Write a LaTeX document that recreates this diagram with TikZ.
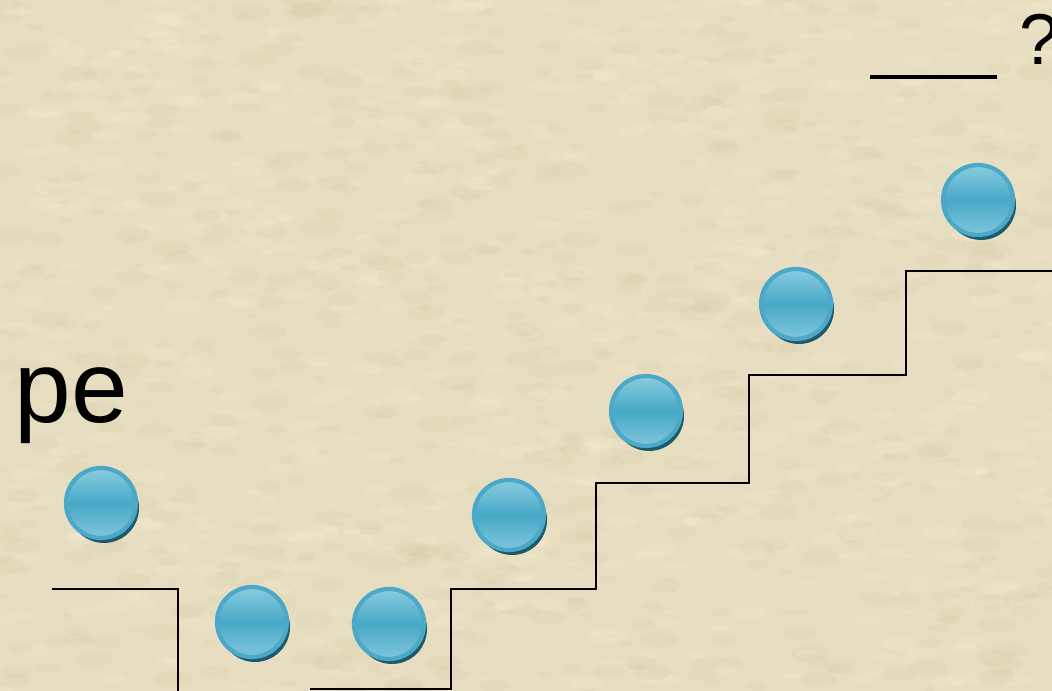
\documentclass[tikz,border=0pt]{standalone}
\usepackage{fontspec}
\setmainfont{Liberation Sans}
\usepackage{xcolor}
\usetikzlibrary{shadows,arrows.meta}
\definecolor{paper}{HTML}{E7DEC1}
\definecolor{paperlight}{HTML}{F3ECD2}
\definecolor{paperdark}{HTML}{D3C9A8}
\definecolor{balltop}{HTML}{8ACCE0}
\definecolor{ballmid}{HTML}{47A9C7}
\definecolor{ballbot}{HTML}{80C6DC}
\definecolor{ballrim}{HTML}{4BA8C6}
\definecolor{ballshade}{HTML}{1E5A6C}
\tikzset{
ball/.style={circle,minimum size=0.70cm,inner sep=0pt,draw=ballrim,line width=1.2pt,
 top color=balltop,bottom color=ballbot,middle color=ballmid,
 general shadow={shadow xshift=0.03cm,shadow yshift=-0.05cm,fill=ballshade}},
stair/.style={black,line width=0.6pt}
}
\begin{document}
\begin{tikzpicture}
\useasboundingbox(0,0)rectangle(10.52,6.91);
\clip(0,0)rectangle(10.52,6.91);
\fill[paper](0,0)rectangle(10.52,6.91);
% paper grain
\pgfmathsetseed{11}
\foreach \i in {1,...,700}{
\pgfmathsetmacro\gx{rnd*10.6}
\pgfmathsetmacro\gy{rnd*7}
\pgfmathsetmacro\gr{0.05+rnd*0.15}
\fill[paperlight,opacity=0.25](\gx,\gy)ellipse({\gr} and {0.35*\gr});
\pgfmathsetmacro\gx{rnd*10.6}
\pgfmathsetmacro\gy{rnd*7}
\fill[paperdark,opacity=0.18](\gx,\gy)ellipse({\gr} and {0.4*\gr});
}
% stairs
\coordinate(s0)at(0.52,1.02);
\coordinate(s1)at(3.10,0.02);
\coordinate(top)at(10.52,4.20);
\draw[stair](s0)--(1.78,1.02)--(1.78,0);
\draw[stair](s1)--(4.51,0.02)--(4.51,1.02)--(5.96,1.02)--(5.96,2.08)
--(7.49,2.08)--(7.49,3.16)--(9.06,3.16)--(9.06,4.20)--(top);
% blank and question
\coordinate(b0)at(8.70,6.14);
\coordinate(b1)at(9.97,6.14);
\draw[line width=1.4pt](b0)--(b1);
\node[anchor=base west,inner sep=0pt,font=\fontsize{20.5}{21}\selectfont](q)at(10.19,6.26){?};
\node[anchor=base west,inner sep=0pt,font=\fontsize{29}{29}\selectfont](pe)at(0.14,2.68){pe};
% balls
\node[ball](b1)at(1.01,1.88){};
\node[ball](b2)at(2.52,0.69){};
\node[ball](b3)at(3.89,0.67){};
\node[ball](b4)at(5.09,1.76){};
\node[ball](b5)at(6.46,2.80){};
\node[ball](b6)at(7.96,3.87){};
\node[ball](b7)at(9.78,4.91){};
\end{tikzpicture}
\end{document}
